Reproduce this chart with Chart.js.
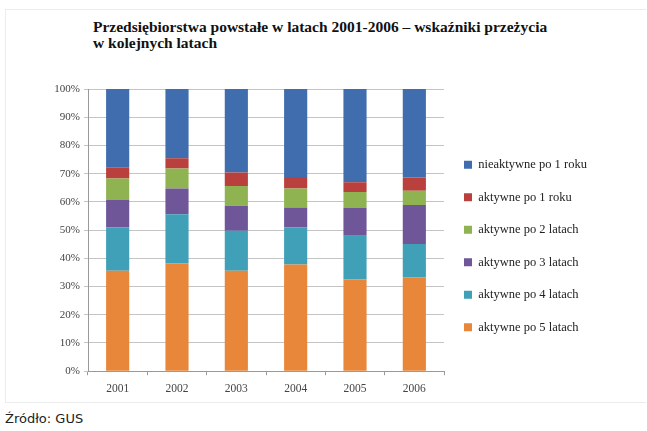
<!DOCTYPE html>
<html>
<head>
<meta charset="utf-8">
<script src="https://cdn.jsdelivr.net/npm/chart.js@4/dist/chart.umd.min.js"></script>
<style>
  body { margin: 0; background: #fff; width: 647px; height: 431px; position: relative; overflow: hidden; }
  #frame { position: absolute; left: 5px; top: 9px; width: 640px; height: 392px; border: 1px solid #ececec; border-right: none; }
  #title { position: absolute; left: 93px; top: 19px; font: bold 15.5px "Liberation Serif", "Times New Roman", serif; line-height: 16px; color: #111; }
  #source { position: absolute; left: 5px; top: 411px; font: 13px "DejaVu Sans", Verdana, sans-serif; color: #222; }
  #wrap { position: absolute; left: 0; top: 75px; width: 647px; height: 330px; }
</style>
</head>
<body>
<div id="frame"></div>
<div id="title">Przedsiębiorstwa powstałe w latach 2001-2006 – wskaźniki przeżycia<br>w kolejnych latach</div>
<div id="wrap"><canvas id="survivalChart"></canvas></div>
<div id="source">Źródło: GUS</div>
<script>
// Data (percent of firms, bottom segment first)
const years = ['2001', '2002', '2003', '2004', '2005', '2006'];
const active5 = [35.6, 38.2, 35.6, 37.8, 32.5, 33.3];
const active4 = [15.4, 17.4, 14.2, 13.2, 15.5, 11.8];
const active3 = [9.7, 9.1, 8.8, 7.0, 9.8, 13.8];
const active2 = [7.6, 7.1, 7.0, 6.7, 5.7, 5.0];
const active1 = [3.8, 3.7, 4.8, 4.1, 3.5, 4.7];
const inactive1 = [27.9, 24.5, 29.6, 31.2, 33.0, 31.4];
const yTicks = [0, 10, 20, 30, 40, 50, 60, 70, 80, 90, 100];

const serif = '"Liberation Serif", "Times New Roman", serif';

const ctx = document.getElementById('survivalChart').getContext('2d');
const survivalChart = new Chart(ctx, {
    type: 'bar',
    data: {
        labels: years,
        datasets: [
            { label: 'aktywne po 5 latach', data: active5, backgroundColor: '#E8873A' },
            { label: 'aktywne po 4 latach', data: active4, backgroundColor: '#3FA0B8' },
            { label: 'aktywne po 3 latach', data: active3, backgroundColor: '#6E5699' },
            { label: 'aktywne po 2 latach', data: active2, backgroundColor: '#8FB350' },
            { label: 'aktywne po 1 roku', data: active1, backgroundColor: '#B9403C' },
            { label: 'nieaktywne po 1 roku', data: inactive1, backgroundColor: '#3F6DAE' }
        ]
    },
    options: {
        responsive: true,
        maintainAspectRatio: false,
        animation: false,
        datasets: { bar: { categoryPercentage: 1, barPercentage: 0.39 } },
        layout: { padding: { left: 0, right: 55, top: 14, bottom: 2 } },
        plugins: {
            tooltip: { enabled: false },
            legend: {
                position: 'right',
                reverse: true,
                labels: {
                    boxWidth: 8,
                    boxHeight: 8,
                    padding: 20,
                    color: '#222',
                    font: { family: serif, size: 12.5 }
                }
            }
        },
        scales: {
            x: {
                stacked: true,
                grid: { offset: true, drawOnChartArea: false, tickLength: 4, color: '#999' },
                border: { color: '#999' },
                ticks: { color: '#444', font: { family: serif, size: 11.5 }, padding: 7 }
            },
            y: {
                stacked: true,
                min: 0,
                max: 100,
                afterFit: function(scale) { scale.width = 88; },
                afterBuildTicks: function(scale) { scale.ticks = yTicks.map(v => ({ value: v })); },
                grid: { color: '#c4c4c4', tickLength: 4 },
                border: { color: '#999' },
                ticks: {
                    color: '#444',
                    font: { family: serif, size: 11 },
                    padding: 4,
                    callback: v => v + '%'
                }
            }
        }
    }
});
</script>
</body>
</html>
